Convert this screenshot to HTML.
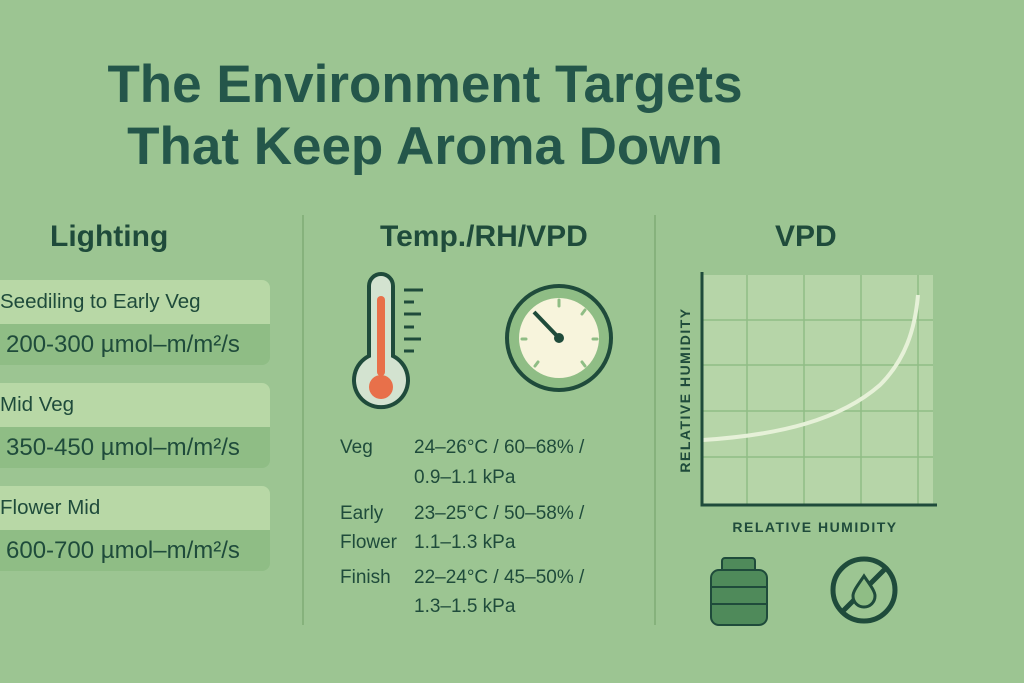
<!DOCTYPE html>
<html><head><style>
body{margin:0;width:1024px;height:683px;background:#9cc592;font-family:"Liberation Sans","DejaVu Sans",sans-serif;color:#1f4b3b;position:relative;overflow:hidden}
.t{position:absolute;white-space:nowrap}
.h1{left:0;width:850px;text-align:center;font-size:53px;font-weight:bold;color:#24564a}
.card{position:absolute;left:-10px;width:280px;border-radius:8px;overflow:hidden}
.card .a{background:#b8d8a6;height:44px;font-size:20.5px;line-height:44px;padding-left:10px}
.card .b{background:#8fbd85;height:41px;font-size:24px;line-height:41px;padding-left:16px}
.div{position:absolute;top:215px;width:2px;height:410px;background:#86b27c}
.tx{font-size:19px}
</style></head><body>
<div class="t h1" style="top:54px">The Environment Targets</div>
<div class="t h1" style="top:116px">That Keep Aroma Down</div>
<div class="div" style="left:302px"></div>
<div class="div" style="left:654px"></div>
<div class="t" style="left:50px;top:220px;font-size:30px;font-weight:bold">Lighting</div>
<div class="t" style="left:380px;top:220px;font-size:30px;font-weight:bold">Temp./RH/VPD</div>
<div class="t" style="left:775px;top:220px;font-size:30px;font-weight:bold">VPD</div>
<div class="card" style="top:280px"><div class="a">Seediling to Early Veg</div><div class="b">200-300 µmol–m/m²/s</div></div>
<div class="card" style="top:383px"><div class="a">Mid Veg</div><div class="b">350-450 µmol–m/m²/s</div></div>
<div class="card" style="top:486px"><div class="a">Flower Mid</div><div class="b">600-700 µmol–m/m²/s</div></div>
<svg style="position:absolute;left:0;top:0" width="1024" height="683">
<g stroke="#1f4b3b" stroke-width="4" fill="#d3e3d0">
<path d="M369 286a12 12 0 0 1 24 0v70a27 27 0 1 1 -24 0z"/>
</g>
<rect x="377" y="296" width="8" height="80" rx="4" fill="#e8704a"/>
<circle cx="381" cy="387" r="12" fill="#e8704a"/>
<g stroke="#1f4b3b" stroke-width="3">
<line x1="404" y1="290" x2="423" y2="290"/><line x1="404" y1="302" x2="414" y2="302"/>
<line x1="404" y1="314" x2="421" y2="314"/><line x1="404" y1="327" x2="414" y2="327"/>
<line x1="404" y1="339" x2="421" y2="339"/><line x1="404" y1="351" x2="414" y2="351"/>
</g>
<circle cx="559" cy="338" r="52" fill="#8fbd85" stroke="#1f4b3b" stroke-width="4"/>
<circle cx="559" cy="338" r="40" fill="#f7f4dc"/>
<g stroke="#8fbd85" stroke-width="3" stroke-linecap="round">
<line x1="559" y1="300" x2="559" y2="306"/><line x1="585" y1="310" x2="582" y2="314"/>
<line x1="593" y1="339" x2="597" y2="339"/><line x1="522" y1="339" x2="526" y2="339"/>
<line x1="585" y1="366" x2="582" y2="362"/><line x1="535" y1="366" x2="538" y2="362"/>
</g>
<line x1="534" y1="312" x2="559" y2="338" stroke="#1f4b3b" stroke-width="4"/>
<circle cx="559" cy="338" r="5" fill="#1f4b3b"/>
<rect x="703" y="275" width="230" height="230" fill="#b6d5a8"/>
<g stroke="#8fbd85" stroke-width="1.5">
<line x1="747" y1="275" x2="747" y2="505"/><line x1="804" y1="275" x2="804" y2="505"/><line x1="861" y1="275" x2="861" y2="505"/><line x1="918" y1="275" x2="918" y2="505"/>
<line x1="703" y1="320" x2="933" y2="320"/><line x1="703" y1="365" x2="933" y2="365"/><line x1="703" y1="411" x2="933" y2="411"/><line x1="703" y1="457" x2="933" y2="457"/>
</g>
<path d="M703 440C780 435 840 420 880 385C905 360 915 330 918 295" fill="none" stroke="#e6f1d8" stroke-width="4"/>
<path d="M702 272V505H937" fill="none" stroke="#1f4b3b" stroke-width="3"/>
<text x="690" y="390" transform="rotate(-90 690 390)" text-anchor="middle" font-size="14" font-weight="bold" letter-spacing="1.5" fill="#1f4b3b" font-family="Liberation Sans">RELATIVE HUMIDITY</text>
<text x="815" y="532" text-anchor="middle" font-size="14" font-weight="bold" letter-spacing="1.5" fill="#1f4b3b" font-family="Liberation Sans">RELATIVE HUMIDITY</text>
<rect x="722" y="558" width="33" height="17" rx="3" fill="#4f8a5a" stroke="#1f4b3b" stroke-width="2"/>
<rect x="711" y="570" width="56" height="55" rx="8" fill="#4f8a5a" stroke="#1f4b3b" stroke-width="2"/>
<g stroke="#1f4b3b" stroke-width="2"><line x1="711" y1="587" x2="767" y2="587"/><line x1="711" y1="604" x2="767" y2="604"/></g>
<circle cx="864" cy="590" r="31" fill="none" stroke="#1f4b3b" stroke-width="5"/>
<line x1="842" y1="612" x2="886" y2="568" stroke="#1f4b3b" stroke-width="5"/>
<path d="M864 576c-6 9-11 15-11 20a11 11 0 0 0 22 0c0-5-5-11-11-20z" fill="#8fbd85" stroke="#1f4b3b" stroke-width="3"/>
</svg>
<div class="t tx" style="left:340px;top:437px">Veg</div>
<div class="t tx" style="left:414px;top:437px">24–26°C / 60–68% /</div>
<div class="t tx" style="left:414px;top:467px">0.9–1.1 kPa</div>
<div class="t tx" style="left:340px;top:503px">Early</div>
<div class="t tx" style="left:340px;top:532px">Flower</div>
<div class="t tx" style="left:414px;top:503px">23–25°C / 50–58% /</div>
<div class="t tx" style="left:414px;top:532px">1.1–1.3 kPa</div>
<div class="t tx" style="left:340px;top:567px">Finish</div>
<div class="t tx" style="left:414px;top:567px">22–24°C / 45–50% /</div>
<div class="t tx" style="left:414px;top:596px">1.3–1.5 kPa</div>
</body></html>
